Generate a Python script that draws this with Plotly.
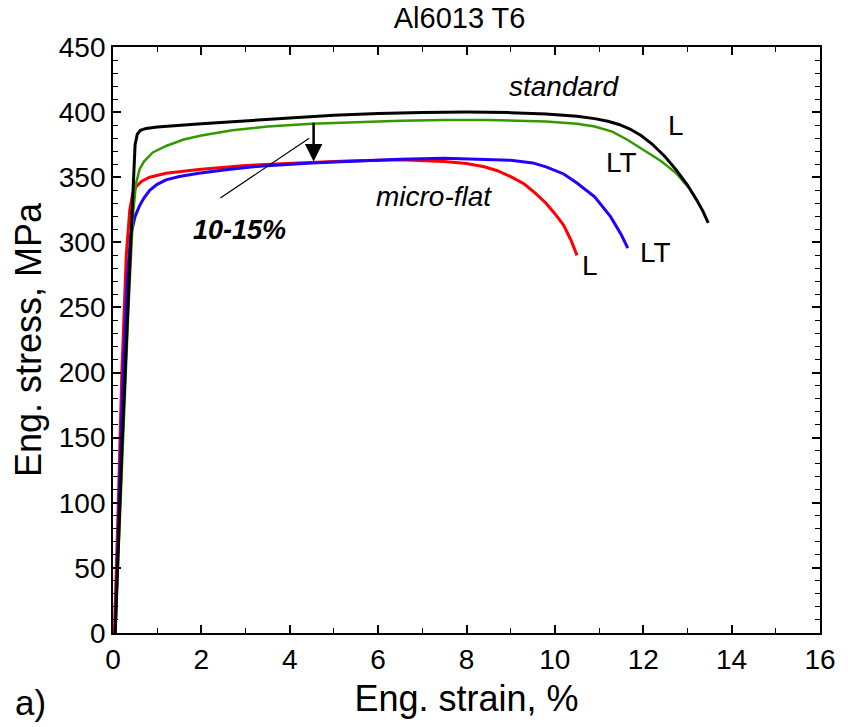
import plotly.graph_objects as go

# standard, L (black)
std_L_strain = [0.05, 0.2, 0.35, 0.45, 0.5, 0.55, 0.62, 0.75, 1.0, 2, 3, 4, 5, 6, 7, 8, 9, 9.8, 10.5, 10.9, 11.2, 11.45, 11.7, 11.95, 12.2, 12.5, 12.75, 13.0, 13.2, 13.35, 13.47]
std_L_stress = [0, 140, 260, 345, 375, 383, 386, 387.5, 388.5, 391, 393.5, 395.5, 397.5, 399, 399.7, 400, 399.6, 398.6, 396.8, 395, 393, 390.5, 387, 382, 375.5, 365.5, 355.5, 344, 333, 324, 315]

# standard, LT (green)
std_LT_strain = [0.05, 0.2, 0.35, 0.45, 0.52, 0.6, 0.7, 0.9, 1.2, 1.6, 2.0, 2.7, 3.5, 4.5, 5.3, 6.5, 7.5, 8.5, 9.8, 10.5, 10.9, 11.3, 11.65, 12.0, 12.4, 12.75, 13.04]
std_LT_stress = [0, 130, 250, 320, 345, 356, 362, 369, 374, 379, 382, 386, 389, 391, 392, 393.3, 394, 394, 392.7, 391, 389, 385, 378.6, 371, 362.5, 353, 341.5]

# micro-flat, L (red)
mf_L_strain = [0.03, 0.08, 0.12, 0.2, 0.3, 0.38, 0.45, 0.53, 0.65, 0.83, 1.2, 1.94, 3, 4.2, 5.3, 6.5, 7.5, 8.0, 8.4, 8.7, 9.0, 9.3, 9.55, 9.8, 10.0, 10.2, 10.36, 10.5]
mf_L_stress = [0, 50, 100, 200, 290, 325, 338, 343, 347, 350, 353, 356, 359, 361, 362.5, 363.5, 362, 360.5, 358, 355, 350.5, 345, 338, 330, 322, 313, 302, 290]

# micro-flat, LT (blue)
mf_LT_strain = [0.05, 0.1, 0.15, 0.22, 0.32, 0.4, 0.5, 0.6, 0.7, 0.83, 1.0, 1.2, 1.5, 1.94, 2.6, 3.4, 4.5, 5.5, 6.5, 7.5, 8.3, 9.0, 9.5, 9.8, 10.2, 10.5, 10.9, 11.26, 11.5, 11.65]
mf_LT_stress = [0, 60, 110, 190, 270, 305, 320, 328, 334, 340, 344.5, 348, 350.5, 353, 356, 358.7, 361, 362.5, 363.8, 364.5, 364, 363, 361, 358, 352.5, 345.6, 335, 319.7, 306, 295.5]

FONT = "Liberation Sans, Arial, sans-serif"

fig = go.Figure()
fig.add_trace(go.Scatter(x=mf_L_strain, y=mf_L_stress, mode="lines", line=dict(color="#ff0000", width=3), showlegend=False))
fig.add_trace(go.Scatter(x=mf_LT_strain, y=mf_LT_stress, mode="lines", line=dict(color="#2200ff", width=3), showlegend=False))
fig.add_trace(go.Scatter(x=std_LT_strain, y=std_LT_stress, mode="lines", line=dict(color="#339900", width=2.5), showlegend=False))
fig.add_trace(go.Scatter(x=std_L_strain, y=std_L_stress, mode="lines", line=dict(color="#000000", width=3), showlegend=False))

axis_common = dict(
    showgrid=False, zeroline=False, showline=True, linecolor="black", linewidth=1.8,
    mirror="ticks", ticks="inside", ticklen=8, tickwidth=1.5, tickcolor="black",
    tickfont=dict(family=FONT, size=28, color="black"), tick0=0,
)

fig.update_xaxes(range=[0, 16], dtick=2,
                 minor=dict(dtick=1, ticklen=5, tickwidth=1.2, ticks="inside", tickcolor="black", showgrid=False),
                 title=dict(text="Eng. strain, %", font=dict(family=FONT, size=36, color="black"), standoff=12),
                 **axis_common)
fig.update_yaxes(range=[0, 450], dtick=50,
                 minor=dict(dtick=10, ticklen=5, tickwidth=1.2, ticks="inside", tickcolor="black", showgrid=False),
                 title=dict(text="Eng. stress, MPa", font=dict(family=FONT, size=36, color="black"), standoff=6),
                 **axis_common)

ann_font = dict(family=FONT, size=28, color="black")
annotations = [
    dict(x=10.21, y=419.5, text="<i>standard</i>", font=ann_font),
    dict(x=12.74, y=390, text="L", font=ann_font),
    dict(x=11.51, y=361, text="LT", font=ann_font),
    dict(x=7.26, y=335, text="<i>micro-flat</i>", font=ann_font),
    dict(x=10.79, y=282.5, text="L", font=ann_font),
    dict(x=12.27, y=292, text="LT", font=ann_font),
    dict(x=2.86, y=309.5, text="<b><i>10-15%</i></b>", font=dict(family=FONT, size=27, color="black")),
]
for a in annotations:
    fig.add_annotation(xref="x", yref="y", showarrow=False, **a)

fig.add_annotation(x=4.54, y=362, ax=4.54, ay=393, xref="x", yref="y", axref="x", ayref="y",
                   showarrow=True, arrowhead=2, arrowsize=1.4, arrowwidth=2.5, arrowcolor="black", text="")
fig.add_shape(type="line", xref="x", yref="y", x0=2.43, y0=334, x1=4.44, y1=380,
              line=dict(color="black", width=1.2))

fig.update_layout(
    width=848, height=727,
    margin=dict(l=113, r=19, t=47, b=94),
    plot_bgcolor="white", paper_bgcolor="white",
    title=dict(text="Al6013 T6", x=0.542, xanchor="center", y=0.975, yanchor="middle",
               font=dict(family=FONT, size=29, color="black")),
)
fig.add_annotation(xref="paper", yref="paper", x=-0.116, y=-0.119, xanchor="center", yanchor="middle",
                   text="a)", showarrow=False, font=dict(family=FONT, size=35, color="black"))

fig.write_html("out.html")
